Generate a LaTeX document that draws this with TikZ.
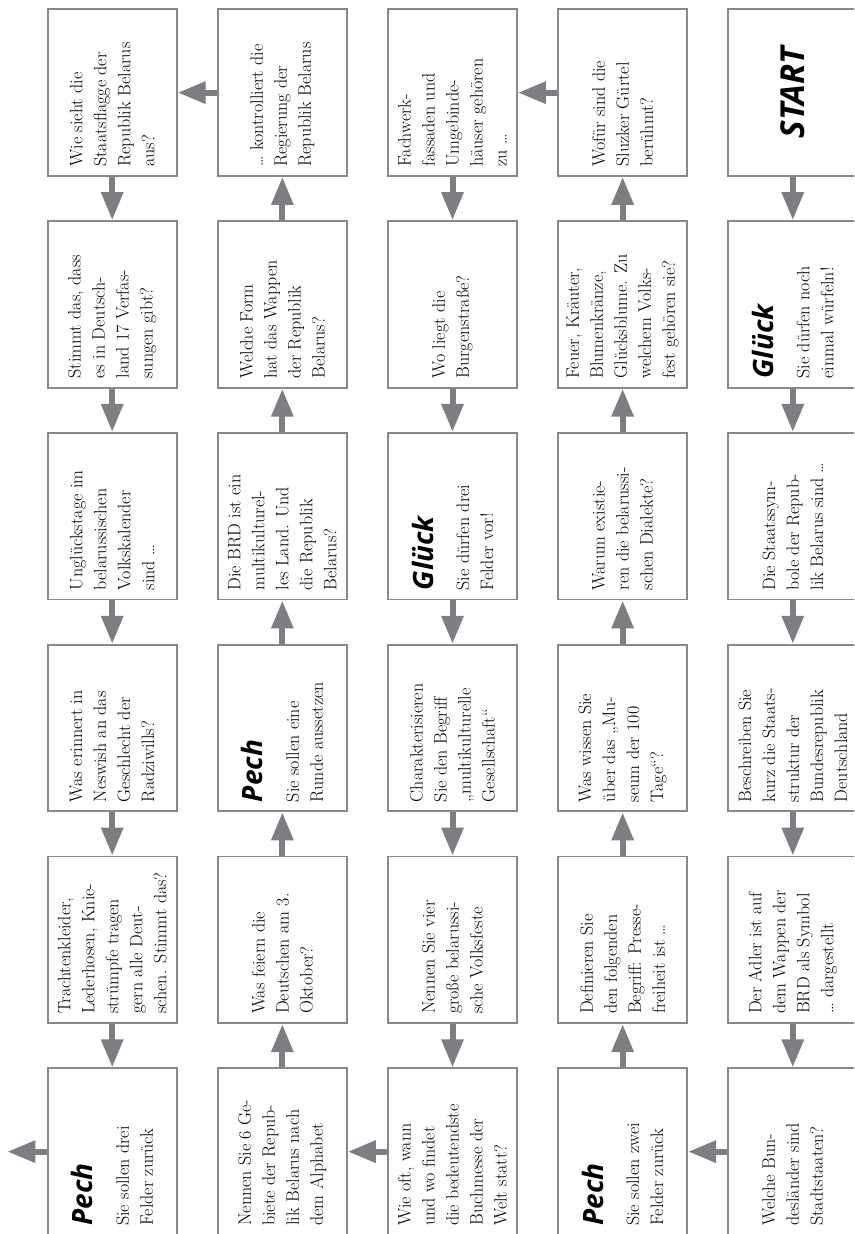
\documentclass[tikz,border=0pt]{standalone}
\usepackage{fontspec}
\newfontfamily\hfont{Open Sans}
\usetikzlibrary{arrows.meta,calc}
\definecolor{boxgray}{RGB}{136,136,138}
\definecolor{arrgray}{RGB}{126,126,130}
\newcommand{\hd}[1]{{\hfont\bfseries\itshape\fontsize{28}{28}\selectfont #1}\\[12pt]}
\begin{document}
\begin{tikzpicture}[x=1pt,y=1pt,
  box/.style={draw=boxgray, line width=1.8pt, fill=white, minimum width=129pt, minimum height=166.7pt, inner sep=0pt},
  txt/.style={rotate=90, anchor=west, align=left, inner sep=0pt, font=\fontsize{18}{24}\selectfont},
  arr/.style={draw=arrgray, line width=6pt, -{Triangle[length=28pt,width=21pt]}}]
\useasboundingbox (0,0) rectangle (854,1234);
\clip (0,0) rectangle (854,1234);
\foreach \c/\x in {1/112.2,2/282.35,3/452.5,4/622.65,5/792.8}
  \foreach \r/\y in {1/1141.35,2/929.55,3/717.75,4/505.95,5/294.15,6/82.35}
    \node[box] (b\c\r) at (\x,\y) {};
% column 1
\node[txt] (t11) at ($(b11.south)+(0,10)$) {Wie sieht die\\Staatsflagge der\\Republik Belarus\\aus?};
\node[txt] (t12) at ($(b12.south)+(0,10)$) {Stimmt das, dass\\es in Deutsch-\\land 17 Verfas-\\sungen gibt?};
\node[txt] (t13) at ($(b13.south)+(0,10)$) {Unglückstage im\\belarussischen\\Volkskalender\\sind \dots};
\node[txt] (t14) at ($(b14.south)+(0,10)$) {Was erinnert in\\Neswish an das\\Geschlecht der\\Radziwills?};
\node[txt] (t15) at ($(b15.south)+(0,10)$) {Trachtenkleider,\\Lederhosen, Knie-\\strümpfe tragen\\gern alle Deut-\\schen. Stimmt das?};
\node[txt] (t16) at ($(b16.south)+(0,10)$) {\hd{Pech}Sie sollen drei\\Felder zurück};
% column 2
\node[txt] (t21) at ($(b21.south)+(0,10)$) {\dots{} kontrolliert die\\Regierung der\\Republik Belarus};
\node[txt] (t22) at ($(b22.south)+(0,10)$) {Welche Form\\hat das Wappen\\der Republik\\Belarus?};
\node[txt] (t23) at ($(b23.south)+(0,10)$) {Die BRD ist ein\\multikulturel-\\les Land. Und\\die Republik\\Belarus?};
\node[txt] (t24) at ($(b24.south)+(0,10)$) {\hd{Pech}Sie sollen eine\\Runde aussetzen};
\node[txt] (t25) at ($(b25.south)+(0,10)$) {Was feiern die\\Deutschen am 3.\\Oktober?};
\node[txt] (t26) at ($(b26.south)+(0,10)$) {Nennen Sie 6 Ge-\\biete der Repub-\\lik Belarus nach\\dem Alphabet};
% column 3
\node[txt] (t31) at ($(b31.south)+(0,10)$) {Fachwerk-\\fassaden und\\Umgebinde-\\häuser gehören\\zu \dots};
\node[txt] (t32) at ($(b32.south)+(0,10)$) {Wo liegt die\\Burgenstraße?};
\node[txt] (t33) at ($(b33.south)+(0,10)$) {\hd{Glück}Sie dürfen drei\\Felder vor!};
\node[txt] (t34) at ($(b34.south)+(0,10)$) {Charakterisieren\\Sie den Begriff\\„multikulturelle\\Gesellschaft“};
\node[txt] (t35) at ($(b35.south)+(0,10)$) {Nennen Sie vier\\große belarussi-\\sche Volksfeste};
\node[txt] (t36) at ($(b36.south)+(0,10)$) {Wie oft, wann\\und wo findet\\die bedeutendste\\Buchmesse der\\Welt statt?};
% column 4
\node[txt] (t41) at ($(b41.south)+(0,10)$) {Wofür sind die\\Sluzker Gürtel\\berühmt?};
\node[txt] (t42) at ($(b42.south)+(0,10)$) {Feuer, Kräuter,\\Blumenkränze,\\Glücksblume. Zu\\welchem Volks-\\fest gehören sie?};
\node[txt] (t43) at ($(b43.south)+(0,10)$) {Warum existie-\\ren die belarussi-\\schen Dialekte?};
\node[txt] (t44) at ($(b44.south)+(0,10)$) {Was wissen Sie\\über das „Mu-\\seum der 100\\Tage“?};
\node[txt] (t45) at ($(b45.south)+(0,10)$) {Definieren Sie\\den folgenden\\Begriff: Presse-\\freiheit ist \dots};
\node[txt] (t46) at ($(b46.south)+(0,10)$) {\hd{Pech}Sie sollen zwei\\Felder zurück};
% column 5
\node[rotate=90, inner sep=0pt, font=\hfont\bfseries\itshape\fontsize{33}{33}\selectfont] (t51) at (b51) {START};
\node[txt] (t52) at ($(b52.south)+(0,10)$) {\hd{Glück}Sie dürfen noch\\einmal würfeln!};
\node[txt] (t53) at ($(b53.south)+(0,10)$) {Die Staatssym-\\bole der Repub-\\lik Belarus sind \dots};
\node[txt] (t54) at ($(b54.south)+(0,10)$) {Beschreiben Sie\\kurz die Staats-\\struktur der\\Bundesrepublik\\Deutschland};
\node[txt] (t55) at ($(b55.south)+(0,10)$) {Der Adler ist auf\\dem Wappen der\\BRD als Symbol\\\dots{} dargestellt};
\node[txt] (t56) at ($(b56.south)+(0,10)$) {Welche Bun-\\desländer sind\\Stadtstaaten?};
% arrows
\foreach \r [evaluate=\r as \n using int(\r+1)] in {1,...,5} {
  \draw[arr] (b5\r.south) -- (b5\n.north);
  \draw[arr] (b4\n.north) -- (b4\r.south);
  \draw[arr] (b3\r.south) -- (b3\n.north);
  \draw[arr] (b2\n.north) -- (b2\r.south);
  \draw[arr] (b1\r.south) -- (b1\n.north);
}
\draw[arr] (b56.west) -- (b46.east);
\draw[arr] (b41.west) -- (b31.east);
\draw[arr] (b36.west) -- (b26.east);
\draw[arr] (b21.west) -- (b11.east);
\coordinate (out) at (7.3,82.35);
\draw[arr] (b16.west) -- (out);
\end{tikzpicture}
\end{document}
